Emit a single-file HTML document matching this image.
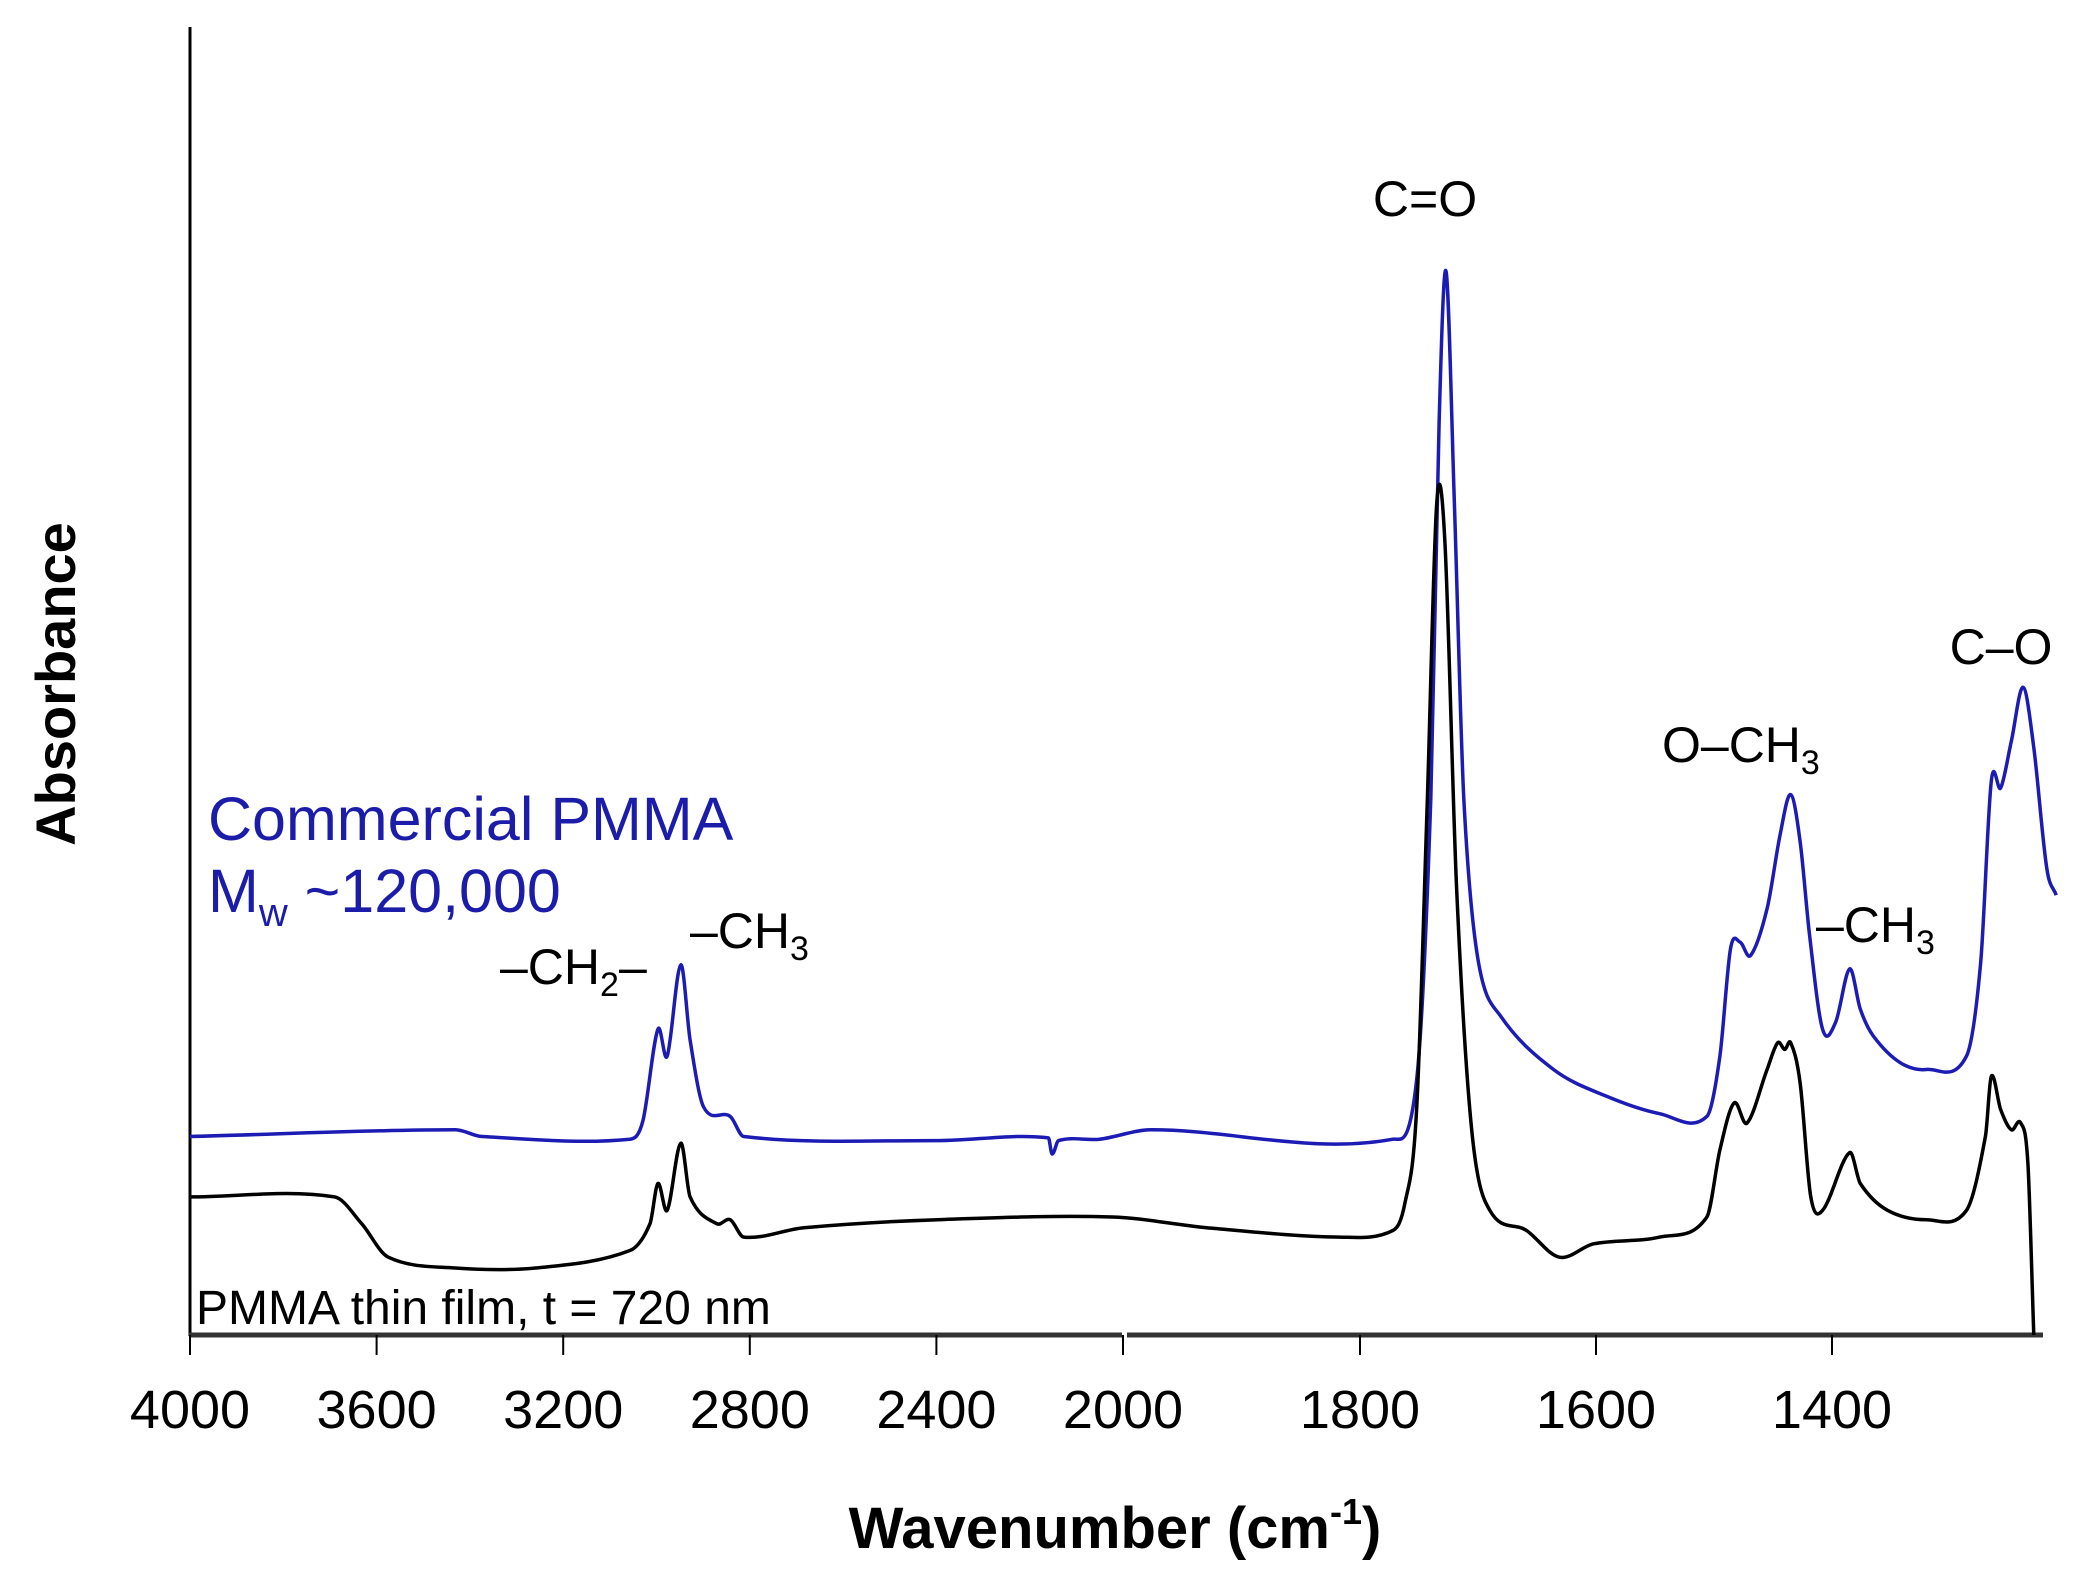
<!DOCTYPE html>
<html><head><meta charset="utf-8"><style>
html,body{margin:0;padding:0;background:#fff;}
svg{display:block;font-family:"Liberation Sans",Arial,sans-serif;}
</style></head><body>
<svg id="chart" width="2092" height="1582" viewBox="0 0 2092 1582">
<g id="axes"></g>
<g id="series"></g>
<g id="labels">
<text x="60" y="684" transform="rotate(-90 60 684)" text-anchor="middle" dominant-baseline="middle" font-size="56" font-weight="bold">Absorbance</text>
<text x="1115" y="1548" text-anchor="middle" font-size="58" font-weight="bold">Wavenumber (cm<tspan font-size="36" dy="-24">-1</tspan><tspan dy="24">)</tspan></text>
<text x="1425" y="216" text-anchor="middle" font-size="50">C=O</text>
<text x="2001" y="664" text-anchor="middle" font-size="50">C–O</text>
<text x="1662" y="762" font-size="50">O–CH<tspan font-size="34" dy="12">3</tspan></text>
<text x="1816" y="942" font-size="50">–CH<tspan font-size="34" dy="12">3</tspan></text>
<text x="500" y="984" font-size="50">–CH<tspan font-size="34" dy="12">2</tspan><tspan dy="-12">–</tspan></text>
<text x="690" y="948" font-size="50">–CH<tspan font-size="34" dy="12">3</tspan></text>
<text x="208" y="840" font-size="61" fill="#1c1caa">Commercial PMMA</text>
<text x="208" y="912" font-size="61" fill="#1c1caa">M<tspan font-size="40" dy="14">w</tspan><tspan dy="-14"> ~120,000</tspan></text>
<text x="196" y="1324" font-size="48">PMMA thin film, t = 720 nm</text>
</g>
</svg>
<script>
const tickLabels = [4000,3600,3200,2800,2400,2000,1800,1600,1400];
const blueWn = [4000,3431,3374,3057,3029,2997,2977,2948,2928,2899,2842,2813,2397,2160,2152,2138,2050,1977,1772,1752,1740,1733,1727,1720,1712,1700,1681,1636,1591,1546,1506,1495,1486,1478,1469,1455,1444,1435,1427,1419,1408,1397,1385,1376,1365,1342,1320,1286,1274,1265,1257,1248,1238,1229,1218,1210];
const blueA = [0.148,0.153,0.148,0.146,0.160,0.228,0.208,0.276,0.220,0.170,0.163,0.148,0.145,0.147,0.135,0.145,0.146,0.153,0.146,0.190,0.400,0.680,0.793,0.620,0.400,0.280,0.238,0.198,0.178,0.165,0.163,0.208,0.288,0.293,0.283,0.318,0.373,0.403,0.368,0.298,0.228,0.233,0.273,0.243,0.223,0.203,0.198,0.208,0.278,0.413,0.408,0.443,0.483,0.438,0.348,0.328];
const blackWn = [4000,3690,3632,3575,3431,3259,3057,3014,2997,2977,2948,2928,2871,2842,2813,2684,2397,2023,1930,1817,1772,1762,1752,1743,1735,1728,1718,1705,1690,1659,1631,1602,1546,1506,1495,1483,1472,1455,1446,1440,1435,1427,1418,1408,1385,1376,1353,1320,1286,1270,1265,1257,1248,1240,1234,1229];
const blackA = [0.103,0.103,0.083,0.058,0.050,0.050,0.063,0.083,0.113,0.093,0.143,0.103,0.083,0.086,0.073,0.080,0.086,0.088,0.080,0.073,0.078,0.098,0.168,0.398,0.620,0.590,0.330,0.150,0.093,0.078,0.058,0.068,0.073,0.088,0.138,0.173,0.158,0.198,0.218,0.213,0.218,0.188,0.103,0.093,0.136,0.113,0.093,0.086,0.093,0.148,0.193,0.168,0.153,0.158,0.128,0.000];

function xs(w){ return w>=2000 ? 190+(4000-w)*0.4665 : 1124+(2000-w)*1.18; }
function ys(a){ return 1335 - a*1341; }
const NS='http://www.w3.org/2000/svg';
const axes=document.getElementById('axes'), series=document.getElementById('series');
function mk(tag,attrs,parent){const e=document.createElementNS(NS,tag);for(const k in attrs)e.setAttribute(k,attrs[k]);parent.appendChild(e);return e;}

let yAx=mk('line',{x1:190,y1:27,x2:190,y2:1336,stroke:'#000','stroke-width':3},axes);


let xA1=mk('line',{x1:189,y1:1335,x2:1122,y2:1335,stroke:'#333','stroke-width':5},axes);


let xA2=mk('line',{x1:1127,y1:1335,x2:2043,y2:1335,stroke:'#333','stroke-width':5},axes);


tickLabels.forEach(t=>{
  const x=xs(t);
  const tk=mk('line',{x1:x,y1:1335,x2:x,y2:1355,stroke:'#000','stroke-width':2},axes);
  
  
  const tx=mk('text',{x:x,y:1428,'text-anchor':'middle','font-size':54},axes);
  tx.textContent=t;
  
  
});

function pathFor(W,A){
  const p=W.map((w,i)=>[xs(w),ys(A[i])]);
  let d='M'+p[0][0].toFixed(1)+','+p[0][1].toFixed(1);
  for(let i=0;i<p.length-1;i++){
    const p0=p[Math.max(i-1,0)],p1=p[i],p2=p[i+1],p3=p[Math.min(i+2,p.length-1)];
    const dx=p2[0]-p1[0];
    const s1=(p2[1]-p0[1])/Math.max(p2[0]-p0[0],0.5);
    const s2=(p3[1]-p1[1])/Math.max(p3[0]-p1[0],0.5);
    const c1=[p1[0]+dx/3,p1[1]+s1*dx/3];
    const c2=[p2[0]-dx/3,p2[1]-s2*dx/3];
    d+=' C'+c1.map(v=>v.toFixed(1)).join(',')+' '+c2.map(v=>v.toFixed(1)).join(',')+' '+p2[0].toFixed(1)+','+p2[1].toFixed(1);
  }
  return d;
}
const bl=mk('path',{d:pathFor(blueWn,blueA),fill:'none',stroke:'#1c1cb4','stroke-width':3.5,'stroke-linejoin':'round'},series);


const bk=mk('path',{d:pathFor(blackWn,blackA),fill:'none',stroke:'#000','stroke-width':3.5,'stroke-linejoin':'round'},series);


</script>
</body></html>
